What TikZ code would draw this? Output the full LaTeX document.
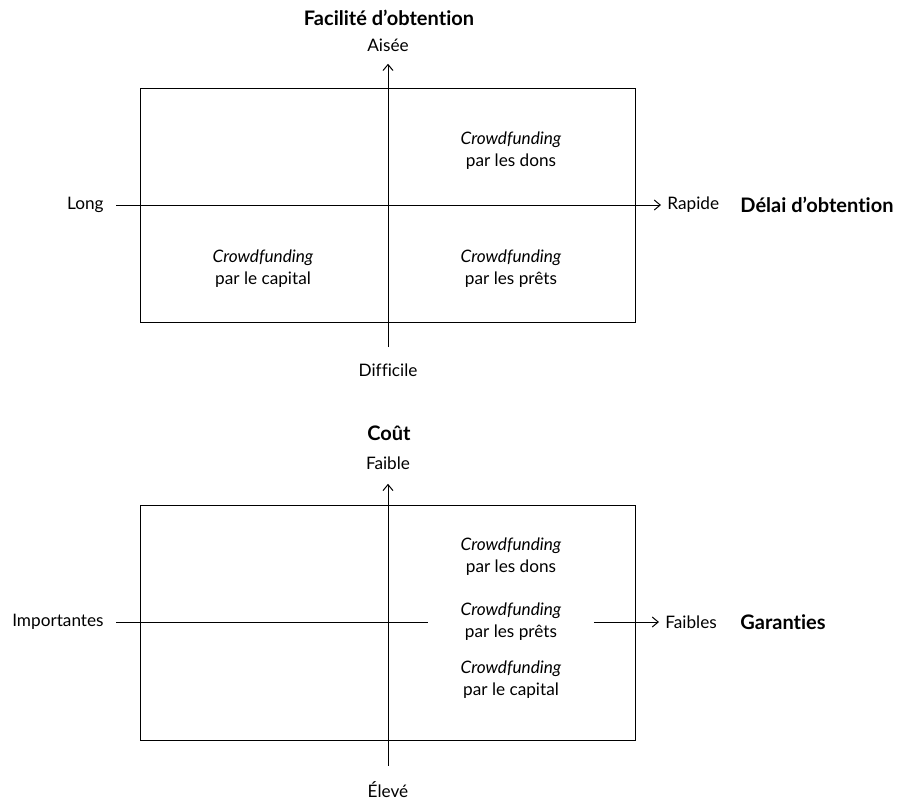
\documentclass[tikz,border=0pt]{standalone}
\usepackage{fontspec}
\setmainfont{Lato}[Ligatures={NoCommon}]
\usetikzlibrary{arrows.meta}

\tikzset{
  lbl/.style={inner sep=3pt, font=\fontsize{8.6}{11}\selectfont},
  ttl/.style={inner sep=0pt, font=\fontsize{10}{11}\selectfont\bfseries},
  quad/.style={align=center, inner sep=0pt, font=\fontsize{8.6}{11}\selectfont},
  axe/.style={line width=0.5pt},
}

\begin{document}
\begin{tikzpicture}[x=0.5pt, y=-0.5pt, >={Straight Barb[length=3pt, width=5pt]}]
		\useasboundingbox (0,0) rectangle (899,800);
		%% haut : facilite / delai
		\draw[axe] (140,88) rectangle (635,322);
		\node[ttl] (fac) at (389,18) {Facilité d’obtention};
		\node[lbl] (aisee) at (388,45) {Aisée};
		\node[lbl] (diff) at (388,370) {Difficile};
		\node[lbl, anchor=east] (long) at (110,205) {Long};
		\node[lbl, anchor=west] (rapide) at (661,205) {Rapide};
		\node[ttl, anchor=west] (delai) at (740,205) {Délai d’obtention};
		\draw[axe, ->, shorten <=5pt, shorten >=3pt] (diff) -- (aisee);
		\draw[axe, ->, shorten <=3pt] (long) -- (rapide);
		\node[quad] (dons) at (511,151) {\textit{Crowdfunding}\\par les dons};
		\node[quad] (capital) at (263,269) {\textit{Crowdfunding}\\par le capital};
		\node[quad] (prets) at (511,269) {\textit{Crowdfunding}\\par les prêts};

		%% bas : cout / garanties
		\draw[axe] (140,505) rectangle (635,740);
		\node[ttl] (cout) at (389,433) {Coût};
		\node[lbl] (faible) at (388,463) {Faible};
		\node[lbl] (eleve) at (388,790) {Élevé};
		\node[lbl, anchor=east] (imp) at (110,622) {Importantes};
		\node[lbl, anchor=west] (faibles) at (659,622) {Faibles};
		\node[ttl, anchor=west] (gar) at (740,622) {Garanties};
		\node[quad] (dons2) at (511,557) {\textit{Crowdfunding}\\par les dons};
		\node[quad, inner xsep=16pt] (prets2) at (511,622) {\textit{Crowdfunding}\\par les prêts};
		\node[quad] (capital2) at (511,680) {\textit{Crowdfunding}\\par le capital};
		\draw[axe, ->, shorten <=5pt, shorten >=4pt] (eleve) -- (faible);
		\draw[axe, shorten <=3pt] (imp) -- (prets2);
		\draw[axe, ->] (prets2) -- (faibles);
\end{tikzpicture}
\end{document}
